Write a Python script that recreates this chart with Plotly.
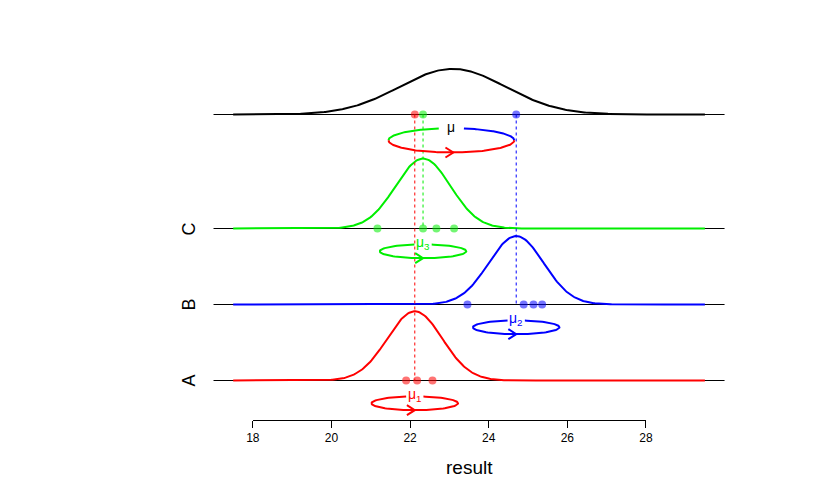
import numpy as np
import plotly.graph_objects as go

# ---------------- data ----------------
groups = ["A", "B", "C"]
group_colors = ["#FF0000", "#0000FF", "#00EE00"]
point_colors = ["rgba(255,0,0,0.55)", "rgba(0,0,255,0.55)", "rgba(0,238,0,0.55)"]
group_levels = [1, 2, 3]
group_means = [22.12, 24.70, 22.33]
group_sds = [0.70, 0.70, 0.70]
group_heights = [0.91, 0.90, 0.92]
group_points = [
    [21.90, 22.18, 22.57],
    [23.46, 24.89, 25.14, 25.36],
    [21.17, 22.33, 22.67, 23.12],
]
mu_labels = ["μ<sub>1</sub>", "μ<sub>2</sub>", "μ<sub>3</sub>"]

top_level = 4.5
overall_mean = 23.08
overall_sd = 1.35
overall_height = 0.60

curve_range = [17.5, 29.5]
baseline_range = [17.0, 30.0]
x_ticks = [18, 20, 22, 24, 26, 28]
x_title = "result"

# ---------------- layout constants ----------------
OFF = 8                 # page body margin
W, H = 812, 486         # keep page free of scrollbars
PXX = 40.0              # px per x unit
PXY = 76.0              # px per y unit
X0 = 250 - OFF          # px of x=18
Y1 = 380.5 - OFF        # px of level 1 (pixel centre)
X_RANGE = [18 - X0 / PXX, 18 + (W - X0) / PXX]
Y_RANGE = [1 - (H - Y1) / PXY, 1 + Y1 / PXY]
FONT = "Liberation Sans, Arial, sans-serif"

def px_x(p):
    return (p - OFF) / W

def px_y(p):
    return 1 - (p - OFF) / H

fig = go.Figure()

def add_line(x, y, color, width=2, dash="solid"):
    fig.add_trace(go.Scatter(x=x, y=y, mode="lines",
                             line=dict(color=color, width=width, dash=dash),
                             showlegend=False, hoverinfo="skip"))

def bell(mean, sd, h, base):
    xs = np.linspace(curve_range[0], curve_range[1], 400)
    return xs, base + h * np.exp(-0.5 * ((xs - mean) / sd) ** 2)

def ellipse_arc(cx, cy, a, b, t0, t1, color):
    t = np.linspace(t0, t1, 120)
    add_line(cx + a * np.cos(t), cy + b * np.sin(t), color, 2)

def chevron(cx, cy, color):
    dx = 8 / PXX
    dy = 5 / PXY
    add_line([cx - dx, cx, cx - dx], [cy + dy, cy, cy - dy], color, 2)

# baselines
for lvl in group_levels + [top_level]:
    add_line(baseline_range, [lvl, lvl], "black", 1)

# top curve
xs, ys = bell(overall_mean, overall_sd, overall_height, top_level)
add_line(xs, ys, "black", 2)

# group curves
for i in range(3):
    xs, ys = bell(group_means[i], group_sds[i], group_heights[i], group_levels[i])
    add_line(xs, ys, group_colors[i], 2)

# dotted verticals from top baseline to each group's baseline
for i in range(3):
    add_line([group_means[i], group_means[i]], [top_level, group_levels[i]],
             group_colors[i], 1, "dot")

# group ellipses with label gap
gap = np.arccos(0.2)
for i in range(3):
    cx = group_means[i]
    cy = group_levels[i] - 0.30
    a, b = 1.1, 0.09
    ellipse_arc(cx, cy, a, b, np.pi - gap, 2 * np.pi + gap, group_colors[i])
    chevron(cx, cy - b, group_colors[i])
    fig.add_annotation(x=cx, y=cy + b + 0.02, text=mu_labels[i], showarrow=False,
                       xanchor="center", yanchor="middle",
                       font=dict(family=FONT, size=14, color=group_colors[i]))

# top ellipse: green (left-top), blue (right-top), red (bottom)
tcx = overall_mean - 0.03
tcy = top_level - 0.34
ta, tb = 1.6, 0.16
tg = np.arccos(0.2)
ellipse_arc(tcx, tcy, ta, tb, np.pi - tg, np.pi, group_colors[2])
ellipse_arc(tcx, tcy, ta, tb, 0, tg, group_colors[1])
ellipse_arc(tcx, tcy, ta, tb, np.pi, 2 * np.pi, group_colors[0])
chevron(tcx + 0.05, tcy - tb, group_colors[0])
fig.add_annotation(x=tcx, y=tcy + tb + 0.02, text="μ", showarrow=False,
                   xanchor="center", yanchor="middle",
                   font=dict(family=FONT, size=14, color="black"))

# points
for i in range(3):
    fig.add_trace(go.Scatter(x=group_points[i], y=[group_levels[i]] * len(group_points[i]),
                             mode="markers",
                             marker=dict(size=8, color=point_colors[i], line=dict(width=0)),
                             showlegend=False, hoverinfo="skip"))
    fig.add_trace(go.Scatter(x=[group_means[i]], y=[top_level], mode="markers",
                             marker=dict(size=8, color=point_colors[i], line=dict(width=0)),
                             showlegend=False, hoverinfo="skip"))

# group labels (rotated)
for g, lvl in zip(groups, group_levels):
    fig.add_annotation(x=px_x(185), xref="paper", y=lvl, yref="y", text=g,
                       textangle=-90, showarrow=False, xanchor="center", yanchor="middle",
                       font=dict(family=FONT, size=18, color="black"))

# axis title
fig.add_annotation(x=px_x(470), xref="paper", y=px_y(467), yref="paper",
                   text=x_title, showarrow=False, xanchor="center", yanchor="middle",
                   font=dict(family=FONT, size=19, color="black"))

# dummy trace for the visible x axis
fig.add_trace(go.Scatter(x=x_ticks, y=[None] * len(x_ticks), xaxis="x2", yaxis="y",
                         mode="markers", showlegend=False, hoverinfo="skip"))

fig.update_layout(
    width=W, height=H,
    margin=dict(l=0, r=0, t=0, b=0),
    paper_bgcolor="white", plot_bgcolor="rgba(0,0,0,0)",
    xaxis=dict(range=X_RANGE, visible=False, domain=[0, 1]),
    yaxis=dict(range=Y_RANGE, visible=False, domain=[0, 1]),
    xaxis2=dict(range=[x_ticks[0], x_ticks[-1]], domain=[px_x(250), px_x(650)],
                anchor="free", position=px_y(419.5),
                tickmode="array", tickvals=x_ticks, ticktext=[str(v) for v in x_ticks],
                ticks="outside", ticklen=7, tickwidth=1, tickcolor="black",
                showline=True, linecolor="black", linewidth=1,
                showgrid=False, zeroline=False,
                tickfont=dict(family=FONT, size=12, color="black")),
    showlegend=False,
)

fig.write_html("out.html")
